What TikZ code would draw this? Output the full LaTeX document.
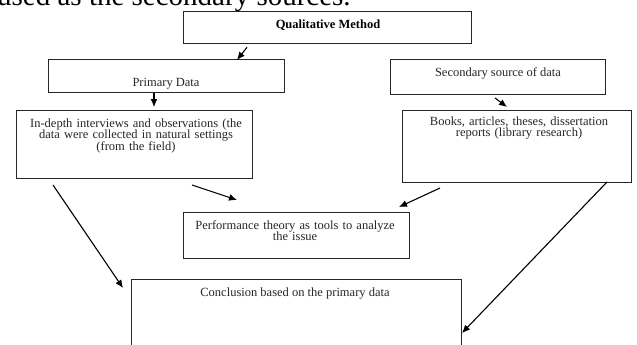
\documentclass[tikz,border=0pt]{standalone}
\usepackage{fontspec}
\setmainfont{Liberation Serif}
\usetikzlibrary{arrows.meta}
\begin{document}
\begin{tikzpicture}[x=1pt,y=1pt,
  box/.style={draw=black!85, line width=1pt, inner sep=0pt, outer sep=0pt},
  txt/.style={inner sep=0pt, outer sep=0pt, align=center, anchor=base,
    font=\fontsize{12.5}{11.5}\selectfont, text=black!85},
  arr/.style={draw=black, line width=1.1pt, -{Latex[length=8pt,width=7pt]}}]
\useasboundingbox (0,0) rectangle (637,-345);
\fill[white] (0,0) rectangle (637,-345);
\begin{scope}
\clip (0,0) rectangle (637,-345);
% cut-off text of the page above
\node[inner sep=0pt, anchor=base west, font=\fontsize{29}{30}\selectfont] (toptext) at (-3,-5.5) {used as the secondary sources.};
% boxes
\node[box, minimum width=288pt, minimum height=31.6pt] (qual) at (327,-27.5) {};
\node[box, minimum width=236pt, minimum height=32pt] (prim) at (166,-76) {};
\node[box, minimum width=215pt, minimum height=34pt] (sec) at (497.5,-77) {};
\node[box, minimum width=236pt, minimum height=68pt] (indepth) at (134,-144) {};
\node[box, minimum width=229pt, minimum height=72pt] (books) at (516.5,-146) {};
\node[box, minimum width=226pt, minimum height=46pt] (perf) at (296,-235) {};
\node[box, minimum width=330pt, minimum height=76pt] (concl) at (296,-317) {};
% texts
\node[txt, font=\fontsize{12.5}{11.5}\selectfont\bfseries, text=black] (qualt) at (328,-28.3) {Qualitative Method};
\node[txt] (primt) at (166,-86) {Primary Data};
\node[txt] (sect) at (498,-77) {Secondary source of data};
\node[txt, text width=236pt] (indeptht) at (136,-127.3) {In-depth interviews and observations (the\\ data were collected in natural settings\\ (from the field)};
\node[txt, text width=229pt] (bookst) at (519,-125) {Books, articles, theses, dissertation\\ reports (library research)};
\node[txt, text width=226pt] (perft) at (295,-229.3) {Performance theory as tools to analyze\\ the issue};
\node[txt] (conclt) at (295,-296) {Conclusion based on the primary data};
% connectors
\draw[arr] ([shift={(64,-4)}]qual.south west) -- ([xshift=189pt]prim.north west);
\draw[arr] ([shift={(106,-1)}]prim.south west) -- ([shift={(138,3)}]indepth.north west);
\draw[arr] ([shift={(105,-4)}]sec.south west) -- ([shift={(105,3)}]books.north west);
\draw[arr] ([shift={(176,-7)}]indepth.south west) -- ([shift={(54,12)}]perf.north west);
\draw[arr] ([shift={(38,-6)}]books.south west) -- ([shift={(-10,5)}]perf.north east);
\draw[arr] ([shift={(37,-7)}]indepth.south west) -- ([shift={(-8,-9)}]concl.north west);
\draw[arr] ([shift={(-24,0)}]books.south east) -- ([shift={(1,-54)}]concl.north east);
\end{scope}
\end{tikzpicture}
\end{document}
